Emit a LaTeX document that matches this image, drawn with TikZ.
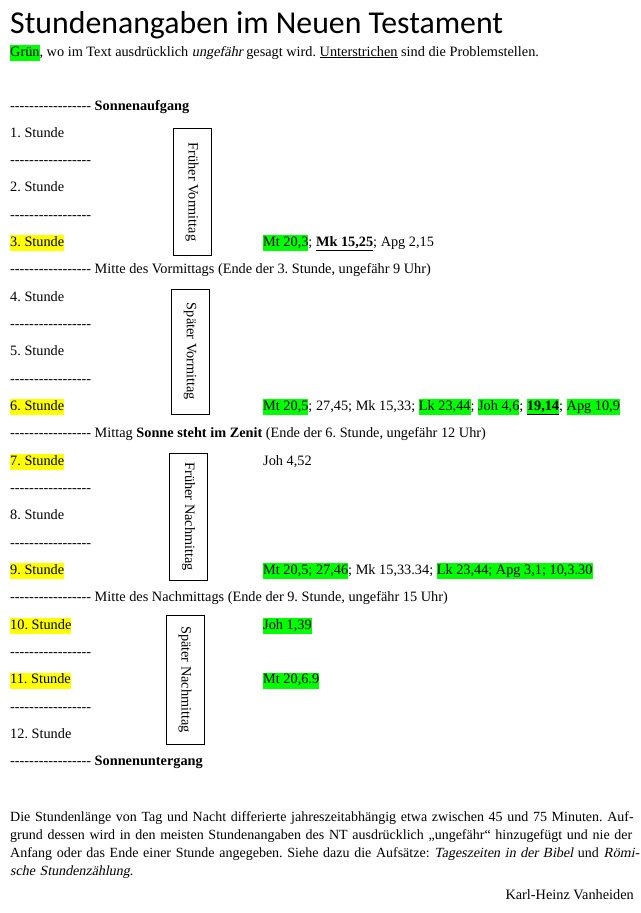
\documentclass[tikz,border=0pt]{standalone}
\usepackage{fontspec}
\setmainfont{Liberation Serif}[ItalicFont={Liberation Serif},ItalicFeatures={FakeSlant=0.2}]
\newfontfamily\titlefont{Carlito}
\definecolor{hellgruen}{HTML}{00FF00}
\definecolor{markgelb}{HTML}{FFFF00}
\newcommand\gruen[1]{{\setlength\fboxsep{0pt}\colorbox{hellgruen}{\strut#1}}}
\newcommand\gelb[1]{{\setlength\fboxsep{0pt}\colorbox{markgelb}{\strut#1}}}
\newcommand\strich{-{}-{}-{}-{}-{}-{}-{}-{}-{}-{}-{}-{}-{}-{}-{}-{}-{}}
\frenchspacing

\begin{document}
\begin{tikzpicture}[x=1pt,y=-1pt,font=\fontsize{14.3}{16}\selectfont,
	zeile/.style={anchor=base west,inner sep=0pt},
	zeitbox/.style={draw,line width=0.8pt,rotate=-90,minimum height=38pt,inner sep=0pt}]
	\useasboundingbox (0,0) rectangle (640,913);
	\node[zeile] (titel) at (10,33) {\titlefont\fontsize{31.8}{36}\selectfont Stundenangaben im Neuen Testament};
	\node[zeile] (hinweis) at (10,56) {\gruen{Grün}, wo im Text ausdrücklich \textit{ungefähr} gesagt wird. \underline{Unterstrichen} sind die Problemstellen.};
	\node[zeile] (aufgang) at (10,110) {\strich{} \textbf{Sonnenaufgang}};
	\node[zeile] (vormittag) at (10,{110+27.33*6}) {\strich{} Mitte des Vormittags (Ende der 3. Stunde, ungefähr 9 Uhr)};
	\node[zeile] (mittag) at (10,{110+27.33*12}) {\strich{} Mittag \textbf{Sonne steht im Zenit} (Ende der 6. Stunde, ungefähr 12 Uhr)};
	\node[zeile] (nachmittag) at (10,{110+27.33*18}) {\strich{} Mitte des Nachmittags (Ende der 9. Stunde, ungefähr 15 Uhr)};
	\node[zeile] (untergang) at (10,{110+27.33*24}) {\strich{} \textbf{Sonnenuntergang}};
	\foreach \k in {2,4,8,10,14,16,20,22}
		\node[zeile] (strich\k) at (10,{110+27.33*\k}) {\strich};
	\foreach \n in {1,2,4,5,8,12}
		\node[zeile] (stunde\n) at (10,{110+27.33*(2*\n-1)}) {\n. Stunde};
	\foreach \n in {3,6,7,9,10,11}
		\node[zeile] (stunde\n) at (10,{110+27.33*(2*\n-1)}) {\gelb{\n. Stunde}};
	\node[zeitbox,minimum width=127pt] (fruehvor) at (192,192) {Früher Vormittag};
	\node[zeitbox,minimum width=125pt] (spaetvor) at (190,351.5) {Später Vormittag};
	\node[zeitbox,minimum width=127pt] (fruehnach) at (188.5,516.5) {Früher Nachmittag};
	\node[zeitbox,minimum width=129pt] (spaetnach) at (185,679.5) {Später Nachmittag};
	\node[zeile] (stelle3) at (263,{110+27.33*5}) {\gruen{Mt 20,3}; \underline{\textbf{Mk 15,25}}; Apg 2,15};
	\node[zeile] (stelle6) at (263,{110+27.33*11}) {\gruen{Mt 20,5}; 27,45; Mk 15,33; \gruen{Lk 23,44}; \gruen{Joh 4,6}; \gruen{\underline{\textbf{19,14}}}; \gruen{Apg 10,9}};
	\node[zeile] (stelle7) at (263,{110+27.33*13}) {Joh 4,52};
	\node[zeile] (stelle9) at (263,{110+27.33*17}) {\gruen{Mt 20,5; 27,46}; Mk 15,33.34; \gruen{Lk 23,44; Apg 3,1; 10,3.30}};
	\node[zeile] (stelle10) at (263,{110+27.33*19}) {\gruen{Joh 1,39}};
	\node[zeile] (stelle11) at (263,{110+27.33*21}) {\gruen{Mt 20,6.9}};
	\node[anchor=north west,inner sep=0pt,text width=624pt,align=left,font=\fontsize{14}{18}\selectfont] (erklaerung) at (10,811) {%
		\makebox[624pt][s]{Die Stundenlänge von Tag und Nacht differierte jahreszeitabhängig etwa zwischen 45 und 75 Minuten. Auf-}\\
		\makebox[624pt][s]{grund dessen wird in den meisten Stundenangaben des NT ausdrücklich „ungefähr“ hinzugefügt und nie der}\\
		\makebox[624pt][s]{Anfang oder das Ende einer Stunde angegeben. Siehe dazu die Aufsätze: \textit{Tageszeiten in der Bibel} und \textit{Römi-}}\\
		\textit{sche Stundenzählung}.};
	\node[anchor=base east,inner sep=0pt] (autor) at (634,899) {Karl-Heinz Vanheiden};
\end{tikzpicture}
\end{document}
